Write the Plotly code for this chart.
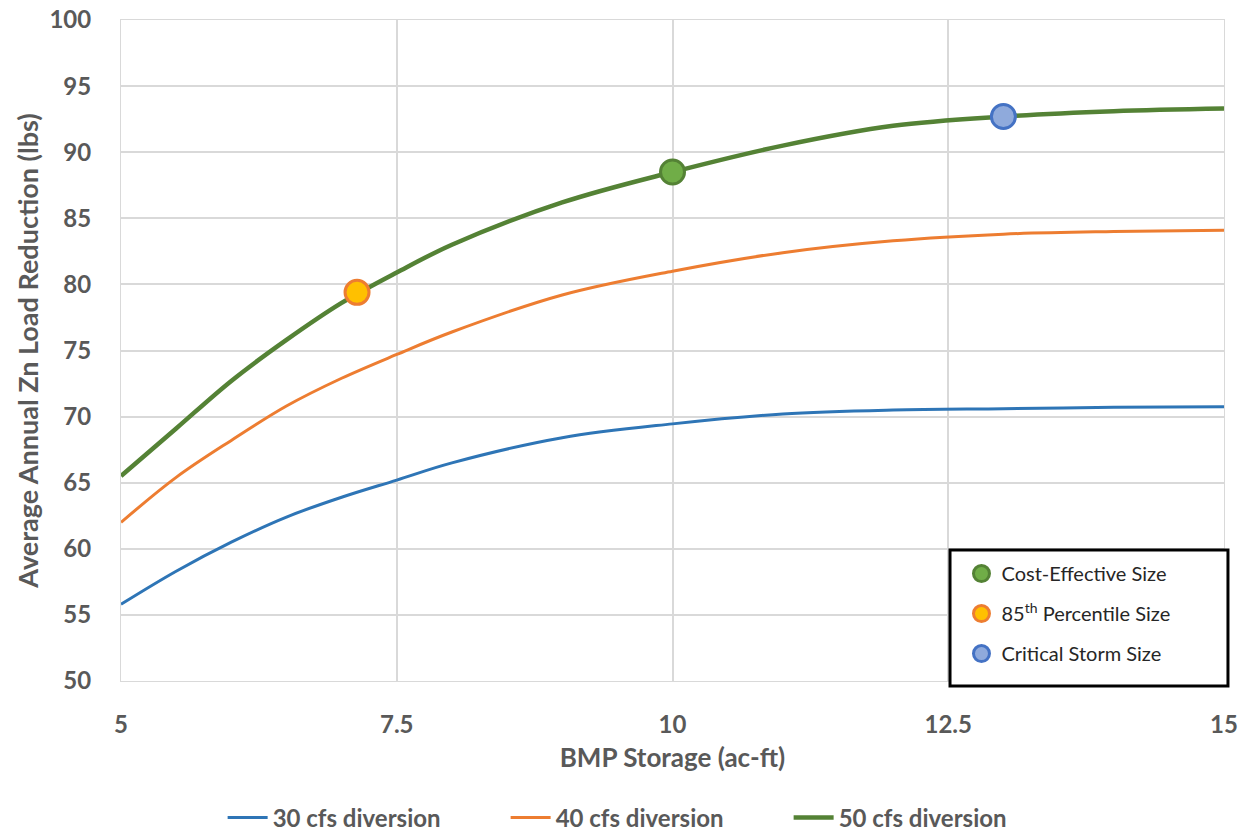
import plotly.graph_objects as go

storage = [5, 5.5, 6, 6.5, 7, 7.5, 8, 9, 10, 11, 12, 13, 14, 15]
cfs30 = [55.8, 58.3, 60.5, 62.4, 63.9, 65.2, 66.5, 68.4, 69.45, 70.2, 70.5, 70.6, 70.7, 70.75]
cfs40 = [62.0, 65.4, 68.2, 70.8, 72.9, 74.7, 76.4, 79.2, 81.0, 82.4, 83.3, 83.8, 84.0, 84.1]
cfs50 = [65.5, 69.1, 72.7, 75.8, 78.6, 80.9, 83.0, 86.2, 88.5, 90.5, 92.0, 92.7, 93.1, 93.3]

series_names = ["30 cfs diversion", "40 cfs diversion", "50 cfs diversion"]
series_colors = ["#2E75B6", "#ED7D31", "#548235"]
series_widths = [3, 3, 4.5]

marker_names = ["Cost-Effective Size", "85<sup>th</sup> Percentile Size", "Critical Storm Size"]
marker_x = [10.0, 7.14, 13.0]
marker_y = [88.5, 79.4, 92.7]
marker_fill = ["#70AD47", "#FFC000", "#8FAADC"]
marker_edge = ["#548235", "#ED7D31", "#4472C4"]

x_ticks = [5, 7.5, 10, 12.5, 15]
x_labels = ["5", "7.5", "10", "12.5", "15"]
y_ticks = list(range(50, 101, 5))

FONT = "Lato, 'Open Sans', sans-serif"
GREY = "#595959"

fig = go.Figure()
for name, ys, col, w in zip(series_names, [cfs30, cfs40, cfs50], series_colors, series_widths):
    fig.add_trace(go.Scatter(x=storage, y=ys, mode="lines", name=name,
                             line=dict(color=col, width=w, shape="spline", smoothing=1.0),
                             legend="legend"))

for i, (name, mx, my, fc, ec) in enumerate(zip(marker_names, marker_x, marker_y, marker_fill, marker_edge)):
    fig.add_trace(go.Scatter(x=[mx], y=[my], mode="markers", name=name,
                             marker=dict(size=24, color=fc, line=dict(color=ec, width=3)),
                             legend="legend2", legendgroup="m%d" % i))

# framed box behind the marker legend
fig.add_shape(type="rect", xref="paper", yref="paper",
              x0=0.7516, x1=1.0036, y0=-0.0076, y1=0.198,
              line=dict(color="black", width=3), fillcolor="white", layer="above")

fig.update_layout(
    width=1250, height=838,
    paper_bgcolor="white", plot_bgcolor="white",
    margin=dict(l=121, r=26, t=20, b=157, autoexpand=False),
    font=dict(family=FONT, color=GREY),
    xaxis=dict(range=[5, 15], tickvals=x_ticks, ticktext=x_labels,
               showgrid=True, gridcolor="#D9D9D9", gridwidth=1.5,
               showline=True, linecolor="#D9D9D9", mirror=True, zeroline=False,
               automargin=False, ticklabeloverflow="allow",
               tickfont=dict(size=24, family=FONT, color=GREY, weight="bold"),
               ticklabelstandoff=22,
               title=dict(text="BMP Storage (ac-ft)", font=dict(size=26, family=FONT, color=GREY, weight="bold"),
                          standoff=12)),
    yaxis=dict(range=[50, 100], tickvals=y_ticks,
               showgrid=True, gridcolor="#D9D9D9", gridwidth=1.5,
               showline=True, linecolor="#D9D9D9", mirror=True, zeroline=False,
               automargin=False, ticklabeloverflow="allow",
               tickfont=dict(size=24, family=FONT, color=GREY, weight="bold"),
               ticklabelstandoff=24,
               title=dict(text="Average Annual Zn Load Reduction (lbs)",
                          font=dict(size=27, family=FONT, color=GREY, weight="bold"), standoff=2)),
    legend=dict(orientation="h", x=0.477, xanchor="center", y=-0.207, yanchor="middle",
                font=dict(size=24, family=FONT, color=GREY, weight="bold"),
                itemwidth=40, entrywidth=228, entrywidthmode="pixels",
                bgcolor="rgba(0,0,0,0)"),
    legend2=dict(x=0.762, xanchor="left", y=0.192, yanchor="top",
                 font=dict(size=20, family=FONT, color="#262626"),
                 borderwidth=0, bgcolor="rgba(0,0,0,0)",
                 itemsizing="trace", tracegroupgap=11),
    showlegend=True,
)

fig.write_html("out.html", config={"displayModeBar": False},
               post_script="document.body.style.margin='0';")
